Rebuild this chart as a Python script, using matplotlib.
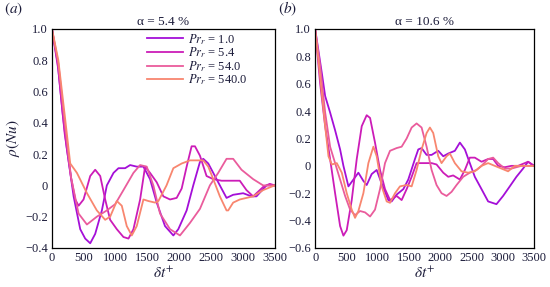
import numpy as np
import matplotlib
matplotlib.use('Agg')
import matplotlib.pyplot as plt
from matplotlib.ticker import FuncFormatter

plt.rcParams['font.family'] = 'Liberation Serif'
plt.rcParams['mathtext.fontset'] = 'stix'
plt.rcParams['font.size'] = 9

# ================= DATA =================
PR_LABELS = ['1.0', '5.4', '54.0', '540.0']
COLORS = ['#A40FD8', '#CC1CB8', '#EA5C9C', '#F8866F']

# panel (a), alpha = 5.4 %
a_x_pr1 = [0, 90, 170, 235, 340, 444, 522, 601, 679, 784, 862, 967, 1045, 1149, 1228, 1332, 1437, 1541,
           1646, 1776, 1907, 1985, 2116, 2220, 2325, 2377, 2456, 2534, 2664, 2743, 2847, 3004, 3135,
           3213, 3370, 3500]
a_y_pr1 = [1.0, 0.78, 0.45, 0.23, -0.07, -0.28, -0.34, -0.37, -0.31, -0.16, 0.0, 0.08, 0.11, 0.11, 0.13,
           0.12, 0.12, 0.04, -0.11, -0.26, -0.32, -0.28, -0.16, 0.0, 0.15, 0.17, 0.14, 0.08, -0.02, -0.08,
           -0.06, -0.05, -0.07, -0.07, 0.0, 0.0]

a_x_pr5 = [0, 100, 200, 300, 366, 418, 496, 601, 679, 758, 836, 914, 1019, 1123, 1202, 1280, 1385, 1463,
           1541, 1646, 1750, 1855, 1959, 2038, 2116, 2194, 2247, 2325, 2429, 2534, 2664, 2847, 2951, 3056,
           3161, 3318, 3422, 3500]
a_y_pr5 = [1.0, 0.74, 0.33, 0.05, -0.09, -0.13, -0.09, 0.06, 0.1, 0.06, -0.09, -0.22, -0.28, -0.33,
           -0.34, -0.28, -0.09, 0.12, 0.08, 0.02, -0.07, -0.09, -0.08, -0.02, 0.12, 0.25, 0.25, 0.19,
           0.06, 0.04, 0.03, 0.03, 0.03, -0.03, -0.07, -0.01, 0.01, 0.0]

a_x_pr54 = [0, 100, 200, 300, 418, 549, 705, 862, 993, 1123, 1280, 1385, 1489, 1593, 1698, 1855, 2011,
            2168, 2325, 2481, 2612, 2743, 2847, 2978, 3161, 3318, 3500]
a_y_pr54 = [1.0, 0.78, 0.4, 0.05, -0.18, -0.25, -0.2, -0.16, -0.12, -0.03, 0.08, 0.13, 0.12, 0.0,
            -0.18, -0.28, -0.32, -0.24, -0.15, 0.0, 0.08, 0.17, 0.17, 0.1, 0.04, 0.0, 0.0]

a_x_pr540 = [0, 100, 200, 287, 392, 550, 705, 836, 914, 1019, 1097, 1175, 1254, 1332, 1437, 1515, 1620,
             1672, 1800, 1907, 2038, 2168, 2377, 2456, 2534, 2638, 2743, 2769, 2847, 2951, 3161, 3318,
             3500]
a_y_pr540 = [1.0, 0.8, 0.45, 0.14, 0.08, -0.05, -0.16, -0.22, -0.2, -0.1, -0.13, -0.26, -0.32, -0.26,
             -0.09, -0.1, -0.11, -0.1, 0.0, 0.11, 0.14, 0.16, 0.16, 0.12, 0.04, -0.07, -0.16, -0.16,
             -0.11, -0.09, -0.07, -0.03, 0.0]

# panel (b), alpha = 10.6 %
b_x_pr1 = [0, 106, 160, 239, 319, 399, 452, 532, 612, 691, 771, 824, 904, 984, 1064, 1170, 1223, 1303,
           1410, 1489, 1596, 1649, 1702, 1782, 1862, 1968, 2048, 2128, 2234, 2314, 2394, 2473, 2553,
           2660, 2766, 2899, 3005, 3112, 3218, 3324, 3404, 3500]
b_y_pr1 = [1.0, 0.68, 0.51, 0.39, 0.26, 0.12, 0.0, -0.15, -0.1, -0.05, -0.11, -0.14, -0.06, -0.03,
           -0.13, -0.25, -0.26, -0.21, -0.17, -0.1, 0.05, 0.12, 0.13, 0.08, 0.08, 0.11, 0.07, 0.09,
           0.11, 0.17, 0.12, 0.02, -0.08, -0.17, -0.26, -0.28, -0.22, -0.15, -0.08, -0.02, 0.03, 0.0]

b_x_pr5 = [0, 80, 160, 239, 319, 399, 452, 505, 585, 665, 745, 824, 878, 957, 1037, 1117, 1197, 1303,
           1383, 1463, 1543, 1622, 1729, 1862, 1941, 2048, 2128, 2207, 2314, 2394, 2473, 2553, 2660,
           2766, 2846, 2926, 3032, 3138, 3245, 3404, 3500]
b_y_pr5 = [1.0, 0.6, 0.29, 0.05, -0.2, -0.44, -0.51, -0.47, -0.25, 0.05, 0.29, 0.37, 0.35, 0.17,
           -0.03, -0.17, -0.25, -0.22, -0.25, -0.17, -0.08, 0.02, 0.02, 0.02, 0.01, -0.05, -0.08, -0.07,
           -0.1, -0.03, 0.06, 0.06, 0.03, 0.05, 0.05, 0.0, -0.01, 0.0, 0.0, 0.03, 0.0]

b_x_pr54 = [0, 80, 160, 239, 319, 399, 479, 559, 638, 718, 798, 878, 957, 1037, 1117, 1197, 1303, 1383,
            1463, 1543, 1622, 1702, 1782, 1862, 1941, 2021, 2101, 2181, 2261, 2367, 2473, 2580, 2660,
            2766, 2846, 2926, 3032, 3138, 3298, 3500]
b_y_pr54 = [1.0, 0.73, 0.39, 0.14, 0.02, -0.1, -0.22, -0.32, -0.36, -0.33, -0.34, -0.37, -0.32, -0.17,
            0.02, 0.11, 0.13, 0.14, 0.2, 0.28, 0.31, 0.28, 0.14, -0.03, -0.14, -0.2, -0.22, -0.19,
            -0.14, -0.08, -0.05, -0.03, 0.0, 0.05, 0.06, 0.02, -0.02, -0.02, 0.0, 0.0]

b_x_pr540 = [0, 80, 160, 213, 266, 346, 426, 505, 585, 638, 691, 771, 851, 931, 984, 1064, 1144, 1197,
             1277, 1356, 1463, 1543, 1622, 1702, 1782, 1835, 1888, 1968, 2021, 2101, 2154, 2234, 2340,
             2447, 2553, 2660, 2766, 2872, 2979, 3085, 3191, 3351, 3500]
b_y_pr540 = [1.0, 0.65, 0.29, 0.07, 0.01, 0.02, -0.05, -0.2, -0.32, -0.38, -0.33, -0.2, 0.02, 0.14,
             0.07, -0.15, -0.26, -0.27, -0.2, -0.15, -0.14, -0.15, -0.03, 0.12, 0.24, 0.28, 0.24, 0.07,
             0.02, 0.07, 0.09, 0.02, -0.04, -0.05, -0.04, 0.0, 0.02, 0.0, -0.02, -0.04, 0.0, 0.0, 0.0]

A_SERIES = [(a_x_pr1, a_y_pr1), (a_x_pr5, a_y_pr5), (a_x_pr54, a_y_pr54), (a_x_pr540, a_y_pr540)]
B_SERIES = [(b_x_pr1, b_y_pr1), (b_x_pr5, b_y_pr5), (b_x_pr54, b_y_pr54), (b_x_pr540, b_y_pr540)]

X_TICKS = [0, 500, 1000, 1500, 2000, 2500, 3000, 3500]
A_YTICKS = [-0.4, -0.2, 0, 0.2, 0.4, 0.6, 0.8, 1.0]
B_YTICKS = [-0.6, -0.4, -0.2, 0, 0.2, 0.4, 0.6, 0.8, 1.0]

TEXT_COL = '#1c1c3a'


def fmt(v, pos):
    if abs(v) < 1e-9:
        return '0'
    return ('%.1f' % v).replace('-', '\u2212')


fig = plt.figure(figsize=(5.5, 2.87), dpi=100, facecolor='white')
ax1 = fig.add_axes([0.0945, 0.136, 0.405, 0.763])
ax2 = fig.add_axes([0.573, 0.136, 0.398, 0.763])

for ax, series, yticks, ylim, title in [
        (ax1, A_SERIES, A_YTICKS, (-0.4, 1.0), '\u03b1 = 5.4 %'),
        (ax2, B_SERIES, B_YTICKS, (-0.6, 1.0), '\u03b1 = 10.6 %')]:
    for (xs, ys), col, lab in zip(series, COLORS, PR_LABELS):
        ax.plot(xs, ys, color=col, linewidth=1.3, label='$Pr_r$ = ' + lab,
                solid_joinstyle='round')
    ax.set_xlim(0, 3500)
    ax.set_ylim(*ylim)
    ax.set_xticks(X_TICKS)
    ax.set_yticks(yticks)
    ax.yaxis.set_major_formatter(FuncFormatter(fmt))
    ax.tick_params(length=0, labelsize=9, labelcolor=TEXT_COL, pad=3)
    for sp in ax.spines.values():
        sp.set_linewidth(0.9)
    ax.set_title(title, fontsize=9.5, pad=3, color=TEXT_COL)
    ax.set_xlabel('$\\delta t^{+}$', fontsize=11, labelpad=1, color=TEXT_COL)

ax1.set_ylabel('$\\rho(Nu)$', fontsize=11, labelpad=2, color=TEXT_COL)

leg = ax1.legend(loc='upper left', bbox_to_anchor=(0.405, 1.01), frameon=False, fontsize=9,
                 handlelength=2.9, handletextpad=0.4, labelspacing=-0.1, borderaxespad=0.0)
for t in leg.get_texts():
    t.set_color(TEXT_COL)

fig.text(0.008, 0.955, '$(a)$', fontsize=11, color=TEXT_COL)
fig.text(0.505, 0.955, '$(b)$', fontsize=11, color=TEXT_COL)

fig.savefig('out.png', dpi=100, facecolor='white')
